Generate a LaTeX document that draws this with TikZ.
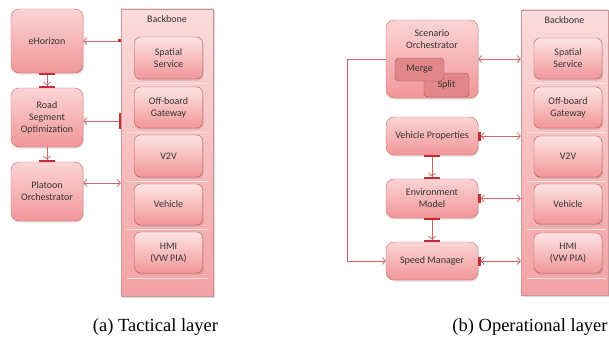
\documentclass[tikz,border=0pt]{standalone}
\usepackage{fontspec}
\setmainfont{Carlito}
\newfontfamily\capfont{Liberation Serif}
\usetikzlibrary{arrows.meta,shadows}

\definecolor{txt}{RGB}{55,50,50}
\definecolor{boxline}{RGB}{205,105,105}
\definecolor{boxtop}{RGB}{251,212,213}
\definecolor{boxbot}{RGB}{241,150,153}
\definecolor{bbline}{RGB}{200,150,150}
\definecolor{bbtop}{RGB}{251,220,220}
\definecolor{bbbot}{RGB}{243,162,164}
\definecolor{svcline}{RGB}{192,80,77}
\definecolor{svctop}{RGB}{253,228,228}
\definecolor{svcbot}{RGB}{241,150,152}
\definecolor{subline}{RGB}{175,75,75}
\definecolor{subfill}{RGB}{226,135,137}
\definecolor{lnk}{RGB}{205,100,100}
\definecolor{barc}{RGB}{195,45,50}
\definecolor{cell}{RGB}{252,226,226}

\tikzset{
  Ob/.tip={Straight Barb[length=3pt,width=7pt]},
  Hb/.tip={Bar[width=16pt,line width=2.2pt,color=barc]},
  Vb/.tip={Bar[width=9pt,line width=2.5pt,color=barc]},
  Sb/.tip={Bar[width=3pt,line width=2.5pt,color=barc]},
}

\begin{document}
\begin{tikzpicture}[x=1pt, y=-1pt,
    every node/.style={font=\fontsize{10}{12}\selectfont, text=txt},
    comp/.style={draw=boxline, rounded corners=8pt, top color=boxtop, bottom color=boxbot,
      align=center, inner sep=0pt,
      drop shadow={shadow xshift=1pt, shadow yshift=-1.5pt, opacity=0.25}},
    bbone/.style={draw=bbline, top color=bbtop, bottom color=bbbot, inner sep=0pt,
      drop shadow={shadow xshift=1.5pt, shadow yshift=-1.5pt, opacity=0.3}},
    svc/.style={draw=svcline, rounded corners=6pt, top color=svctop, bottom color=svcbot,
      align=center, inner sep=0pt, minimum width=68pt,
      drop shadow={shadow xshift=1pt, shadow yshift=-1.5pt, opacity=0.3}},
    sub/.style={draw=subline, rounded corners=4pt, fill=subfill, inner sep=0pt},
    link/.style={draw=lnk, line width=0.8pt},
    capt/.style={font=\capfont\fontsize{18.5}{22}\selectfont, text=black, anchor=base}]
  \useasboundingbox (0,0) rectangle (609,337);

  % (a) tactical layer
  \node[bbone, minimum width=92pt, minimum height=287pt] (bb1) at (167,152.5) {};
  \node (bb1l) at (167,19) {Backbone};
  \foreach \y in {83,132,181,229,278}
    \draw[cell, line width=0.6pt] (127,\y) -- (208,\y);
  \node[svc, minimum height=42pt] (spat1) at (168.5,58) {Spatial\\Service};
  \node[svc, minimum height=41pt] (offb1) at (168.5,107.5) {Off-board\\Gateway};
  \node[svc, minimum height=42pt] (vtov1) at (168.5,156) {V2V};
  \node[svc, minimum height=41pt] (vehi1) at (168.5,204.5) {Vehicle};
  \node[svc, minimum height=41pt] (hmi1) at (168.5,252.5) {HMI\\(VW PIA)};

  \node[comp, minimum width=72pt, minimum height=64pt] (ehor) at (47,41) {eHorizon};
  \node[comp, minimum width=72pt, minimum height=59pt] (road) at (47,117.5) {Road\\Segment\\Optimization};
  \node[comp, minimum width=72pt, minimum height=59pt] (plat) at (47,191.5) {Platoon\\Orchestrator};

  \coordinate (roadin) at ([yshift=-3.5pt]road.east);
  \coordinate (platin) at ([yshift=8.5pt]plat.east);
  \draw[link, Sb-Ob] (bb1.west |- ehor.east) -- (ehor.east);
  \draw[link, Hb-Ob] (roadin -| bb1.west) -- (roadin);
  \draw[link, Ob-Ob] (platin) -- (platin -| bb1.west);
  \draw[link, Hb-{Ob[] Hb[]}] (ehor.south) -- (road.north);
  \draw[link, -{Ob[] Hb[]}] (road.south) -- (plat.north);

  % (b) operational layer
  \node[bbone, minimum width=87pt, minimum height=285pt] (bb2) at (564.5,152.5) {};
  \node (bb2l) at (564.5,20) {Backbone};
  \foreach \y in {83,132,181,229,278}
    \draw[cell, line width=0.6pt] (527,\y) -- (606,\y);
  \node[svc, minimum height=41pt] (spat2) at (568,58.5) {Spatial\\Service};
  \node[svc, minimum height=41pt] (offb2) at (568,107.5) {Off-board\\Gateway};
  \node[svc, minimum height=41pt] (vtov2) at (568,156.5) {V2V};
  \node[svc, minimum height=40pt] (vehi2) at (568,204) {Vehicle};
  \node[svc, minimum height=40pt] (hmi2) at (568,253) {HMI\\(VW PIA)};

  \node[comp, minimum width=92pt, minimum height=78pt] (scen) at (432,59) {};
  \node[align=center] (scenl) at (432,39.5) {Scenario\\Orchestrator};
  \node[sub, minimum width=45pt, minimum height=24pt] (split) at (446.5,85) {Split};
  \node[sub, minimum width=49pt, minimum height=23pt] (merge) at (419.5,69.5) {Merge};
  \node[comp, minimum width=92pt, minimum height=38pt] (vprop) at (432,136) {Vehicle Properties};
  \node[comp, minimum width=92pt, minimum height=39pt] (envm) at (432,198.5) {Environment\\Model};
  \node[comp, minimum width=92pt, minimum height=38pt] (speed) at (432,261) {Speed Manager};

  \coordinate (loopx) at (347,0);
  \draw[link, -Ob] (scen.west) -- (loopx |- scen.west) |- (speed.west);
  \draw[link, Ob-Ob] (scen.east) -- (bb2.west |- scen.east);
  \draw[link, {Vb[] Ob[]}-Ob] (vprop.east) -- (bb2.west |- vprop.east);
  \draw[link, {Vb[] Ob[]}-Ob] (envm.east) -- (bb2.west |- envm.east);
  \draw[link, {Vb[] Ob[]}-Ob] (speed.east) -- (bb2.west |- speed.east);
  \draw[link, Hb-{Ob[] Hb[]}] (vprop.south) -- (envm.north);
  \draw[link, Hb-{Ob[] Hb[]}] (envm.south) -- (speed.north);

  \node[capt] (capa) at (155.5,331) {(a) Tactical layer};
  \node[capt] (capb) at (530,331) {(b) Operational layer};
\end{tikzpicture}
\end{document}
